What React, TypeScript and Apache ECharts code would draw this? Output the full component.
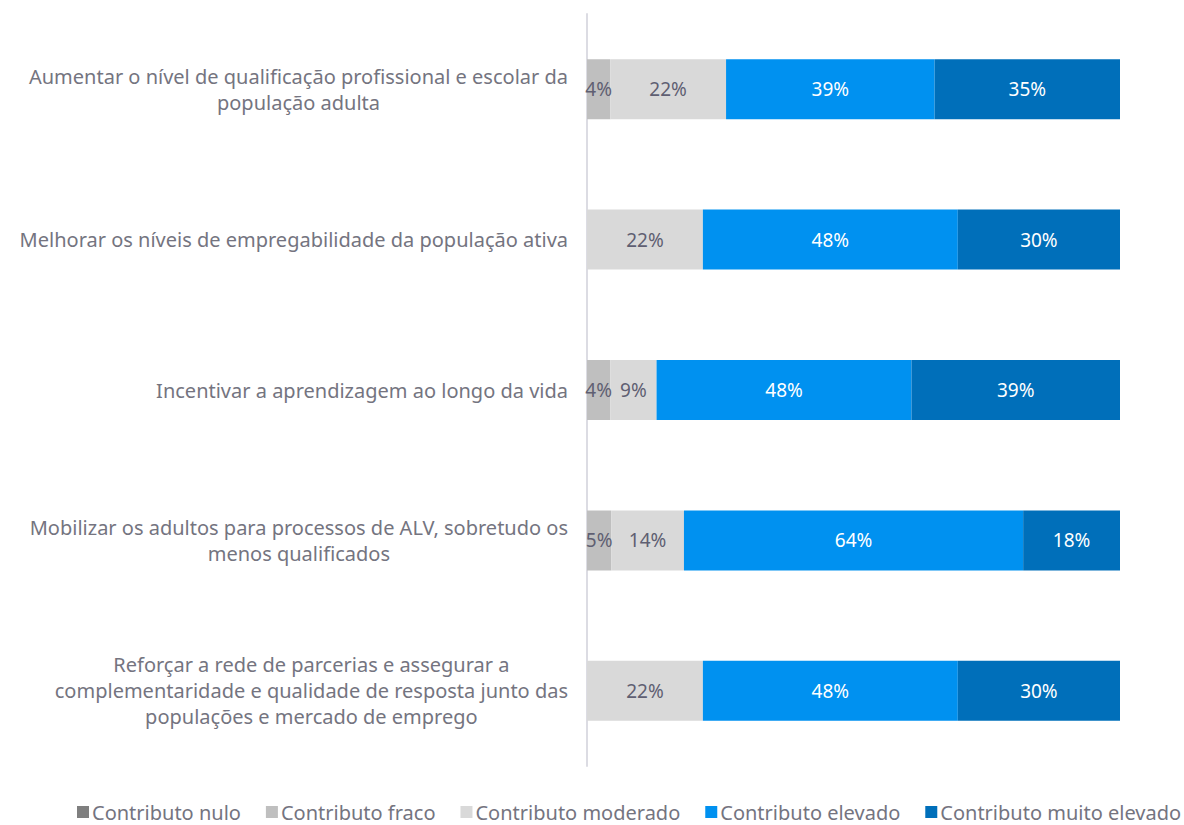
import React, { useEffect, useRef } from "react";
import * as echarts from "echarts";

const categories = [
  "Aumentar o nível de qualificação profissional e escolar da\npopulação adulta",
  "Melhorar os níveis de empregabilidade da população ativa",
  "Incentivar a aprendizagem ao longo da vida",
  "Mobilizar os adultos para processos de ALV, sobretudo os\nmenos qualificados",
  "Reforçar a rede de parcerias e assegurar a\ncomplementaridade e qualidade de resposta junto das\npopulações e mercado de emprego",
];

const seriesNames = [
  "Contributo nulo",
  "Contributo fraco",
  "Contributo moderado",
  "Contributo elevado",
  "Contributo muito elevado",
];

const nulo = [0, 0, 0, 0, 0];
const fraco = [4.35, 0, 4.35, 4.55, 0];
const moderado = [21.74, 21.74, 8.7, 13.64, 21.74];
const elevado = [39.13, 47.83, 47.83, 63.64, 47.83];
const muitoElevado = [34.78, 30.43, 39.13, 18.18, 30.43];

const seriesData = [nulo, fraco, moderado, elevado, muitoElevado];
const colors = ["#7f7f7f", "#bfbfbf", "#d9d9d9", "#0091f0", "#006fba"];
const labelColors = ["#5f5f72", "#5f5f72", "#5f5f72", "#ffffff", "#ffffff"];

const FONT = "Noto Sans";
const TEXT = "#747480";

export default function App() {
  const ref = useRef<HTMLDivElement>(null);
  useEffect(() => {
    const chart = echarts.init(ref.current!, null, { renderer: "svg" });
    chart.setOption({
      animation: false,
      textStyle: { fontFamily: FONT },
      legend: {
        top: 802,
        left: 77,
        width: 1107,
        padding: 0,
        itemWidth: 12,
        itemHeight: 12,
        itemGap: 25,
        icon: "rect",
        textStyle: { color: TEXT, fontSize: 20, fontFamily: FONT, padding: [0, 0, 0, -2] },
        data: seriesNames,
      },
      grid: { left: 587, right: 64, top: 14, bottom: 59, containLabel: false },
      xAxis: {
        type: "value",
        min: 0,
        max: 100,
        show: false,
      },
      yAxis: {
        type: "category",
        inverse: true,
        data: categories,
        axisLine: { show: true, lineStyle: { color: "#dcdce3", width: 2 } },
        axisTick: { show: false },
        axisLabel: {
          margin: 19,
          formatter: (v: string) =>
            v
              .split("\n")
              .map((l) => `{c|${l}}`)
              .join("\n"),
          rich: {
            c: {
              align: "center",
              color: TEXT,
              fontSize: 20,
              fontFamily: FONT,
              lineHeight: 26,
            },
          },
        },
      },
      series: seriesNames.map((name, i) => ({
        name,
        type: "bar",
        stack: "total",
        barWidth: 60,
        data: seriesData[i],
        itemStyle: { color: colors[i] },
        label: {
          show: true,
          position: "inside",
          color: labelColors[i],
          fontSize: 19,
          fontFamily: FONT,
          formatter: (p: any) => (p.value > 0 ? Math.round(p.value) + "%" : ""),
        },
      })),
    });
    return () => chart.dispose();
  }, []);
  return (
    <div
      ref={ref}
      style={{ position: "absolute", left: 0, top: 0, width: 1184, height: 825 }}
    />
  );
}
